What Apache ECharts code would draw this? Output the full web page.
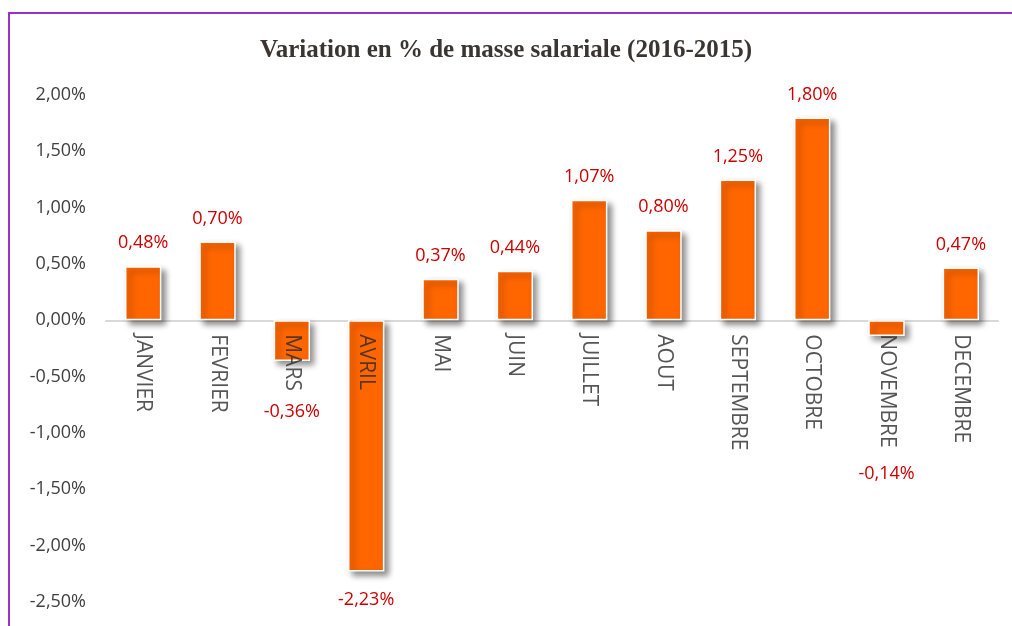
<!DOCTYPE html>
<html>
<head>
<meta charset="utf-8">
<script src="https://cdn.jsdelivr.net/npm/echarts@6/dist/echarts.min.js"></script>
<style>
  html, body { margin: 0; padding: 0; background: #fff; }
  #chart { width: 1012px; height: 626px; }
</style>
</head>
<body>
<div id="chart"></div>
<script>
// mois
var mois = ['JANVIER', 'FEVRIER', 'MARS', 'AVRIL', 'MAI', 'JUIN', 'JUILLET', 'AOUT', 'SEPTEMBRE', 'OCTOBRE', 'NOVEMBRE', 'DECEMBRE'];
// variation en %
var variation = [0.48, 0.70, -0.36, -2.23, 0.37, 0.44, 1.07, 0.80, 1.25, 1.80, -0.14, 0.47];
// décalage vertical des étiquettes (déplacées à la main dans l'original)
var decalage = [0, 0, 28, 5, 0, 0, 0, 0, 0, 0, 115, 0];

function fmt(v) {
  return v.toFixed(2).replace('.', ',') + '%';
}

var donnees = variation.map(function (v, i) {
  return {
    value: v,
    label: {
      position: v < 0 ? 'bottom' : 'top',
      offset: [0, decalage[i]]
    }
  };
});

// noms des mois posés sur la ligne du zéro
var noms = mois.map(function (m) {
  return { value: [m, 0], name: m };
});

var chart = echarts.init(document.getElementById('chart'));
chart.setOption({
  animation: false,
  title: {
    text: 'Variation en % de masse salariale (2016-2015)',
    left: 'center',
    top: 33,
    textStyle: {
      fontFamily: 'Liberation Serif',
      fontWeight: 'bold',
      fontSize: 25,
      color: '#3a3530'
    }
  },
  grid: { left: 106, right: 14, top: 95, bottom: 24, outerBoundsMode: 'none', containLabel: false },
  xAxis: {
    type: 'category',
    data: mois,
    axisLine: { onZero: true, lineStyle: { color: '#d9d9d9', width: 2 } },
    axisTick: { show: false },
    axisLabel: { show: false }
  },
  yAxis: {
    type: 'value',
    min: -2.5,
    max: 2,
    interval: 0.5,
    axisLine: { show: false },
    axisTick: { show: false },
    splitLine: { show: false },
    axisLabel: {
      margin: 20,
      fontFamily: 'Open Sans',
      fontSize: 18,
      color: '#404040',
      formatter: fmt
    }
  },
  series: [{
    type: 'bar',
    data: donnees,
    barWidth: '49%',
    itemStyle: {
      color: '#ff6600',
      borderColor: '#ffffff',
      borderWidth: 1.5,
      shadowColor: 'rgba(0,0,0,0.45)',
      shadowBlur: 6,
      shadowOffsetX: 4,
      shadowOffsetY: 4
    },
    label: {
      show: true,
      distance: 14,
      fontFamily: 'Open Sans',
      fontSize: 18,
      color: '#cc0000',
      formatter: function (p) { return fmt(p.value); }
    }
  }, {
    type: 'scatter',
    data: noms,
    symbolSize: 0,
    silent: true,
    z: 5,
    label: {
      show: true,
      position: 'inside',
      offset: [14, 0],
      rotate: -90,
      align: 'left',
      verticalAlign: 'middle',
      fontFamily: 'Liberation Sans Narrow, Open Sans',
      fontSize: 21,
      color: '#2a2a2a',
      formatter: function (p) { return p.name; }
    }
  }],
  graphic: [
    { type: 'line', shape: { x1: 8, y1: 13, x2: 1012, y2: 13 }, style: { stroke: '#9b30c8', lineWidth: 2 } },
    { type: 'line', shape: { x1: 9, y1: 13, x2: 9, y2: 626 }, style: { stroke: '#9b30c8', lineWidth: 2 } }
  ]
});
</script>
</body>
</html>
